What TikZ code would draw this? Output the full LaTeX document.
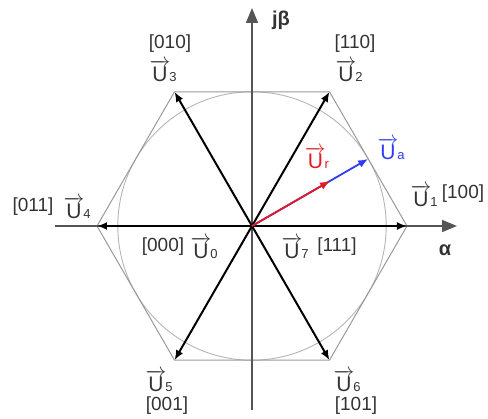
\documentclass[tikz,border=0pt]{standalone}
\usepackage{fontspec}
\setmainfont{Liberation Sans}
\usetikzlibrary{arrows.meta}
\definecolor{axisgray}{HTML}{555555}
\definecolor{hexgray}{HTML}{9A9A9A}
\definecolor{circgray}{HTML}{B5B5B5}
\definecolor{vred}{HTML}{E01B24}
\definecolor{vblue}{HTML}{2E3CF5}
\definecolor{txtgray}{HTML}{333333}
\newcommand{\vU}[1]{$\overrightarrow{\mbox{U}}$\kern-1pt{\fontsize{13}{13}\selectfont #1}}
\tikzset{
  axisline/.style={draw=axisgray, line width=1.6pt, -{Triangle[length=15pt,width=12pt]}},
  hexline/.style={draw=hexgray, line width=1pt},
  circline/.style={draw=circgray, line width=0.9pt},
  vecline/.style={draw=black, line width=2pt, -{Latex[length=10pt,width=8pt]}},
  redvec/.style={draw=vred, line width=1.8pt, -{Latex[length=10pt,width=8pt]}},
  bluevec/.style={draw=vblue, line width=1.8pt, -{Latex[length=10pt,width=8pt]}},
  lbl/.style={font=\fontsize{21}{21}\selectfont, text=txtgray, inner sep=0pt},
  code/.style={font=\fontsize{19}{19}\selectfont, text=txtgray, inner sep=0pt}
}
\begin{document}
\begin{tikzpicture}[x=1pt,y=1pt]
\useasboundingbox (-252,-193) rectangle (236,226);
% coordinates
\coordinate (O) at (0,0);
\coordinate (V1) at (155,0);
\coordinate (V2) at (77.5,134.2);
\coordinate (V3) at (-77.5,134.2);
\coordinate (V4) at (-155,0);
\coordinate (V5) at (-77.5,-134.2);
\coordinate (V6) at (77.5,-134.2);
\coordinate (Xs) at (-197,0);
\coordinate (Xe) at (205,0);
\coordinate (Ys) at (0,-184);
\coordinate (Ye) at (0,218);
\coordinate (Rt) at (78,45);
\coordinate (At) at (116.2,67.1);
% circle and hexagon
\draw[circline] (O) circle (134.2);
\draw[hexline] (V1) -- (V2) -- (V3) -- (V4) -- (V5) -- (V6) -- cycle;
% axes
\draw[axisline] (Xs) -- (Xe);
\draw[axisline] (Ys) -- (Ye);
% vectors
\foreach \v in {V1,V2,V3,V4,V5,V6} \draw[vecline] (O) -- (\v);
\draw[bluevec] (O) -- (At);
\draw[redvec] (O) -- (Rt);
% axis labels
\node[lbl, font=\fontsize{20}{20}\selectfont\bfseries] (ja) at (29,206) {jβ};
\node[lbl, font=\fontsize{20}{20}\selectfont\bfseries] (al) at (193,-24) {α};
% vector labels
\node[code] (c3) at (-82,182) {[010]};
\node[lbl] (u3) at (-89,155) {\vU{3}};
\node[code] (c2) at (103,182) {[110]};
\node[lbl] (u2) at (97,155) {\vU{2}};
\node[lbl] (u1) at (172,30) {\vU{1}};
\node[code] (c1) at (211,32) {[100]};
\node[code] (c4) at (-219,19) {[011]};
\node[lbl] (u4) at (-175,18) {\vU{4}};
\node[code] (c0) at (-89,-21) {[000]};
\node[lbl] (u0) at (-48,-22) {\vU{0}};
\node[lbl] (u7) at (43,-22) {\vU{7}};
\node[code] (c7) at (85,-21) {[111]};
\node[lbl] (u5) at (-93,-155) {\vU{5}};
\node[code] (c5) at (-85,-180) {[001]};
\node[lbl] (u6) at (95,-155) {\vU{6}};
\node[code] (c6) at (104,-180) {[101]};
\node[lbl, text=vred] (ur) at (65,68) {\vU{r}};
\node[lbl, text=vblue] (ua) at (139,77) {\vU{a}};
\end{tikzpicture}
\end{document}
